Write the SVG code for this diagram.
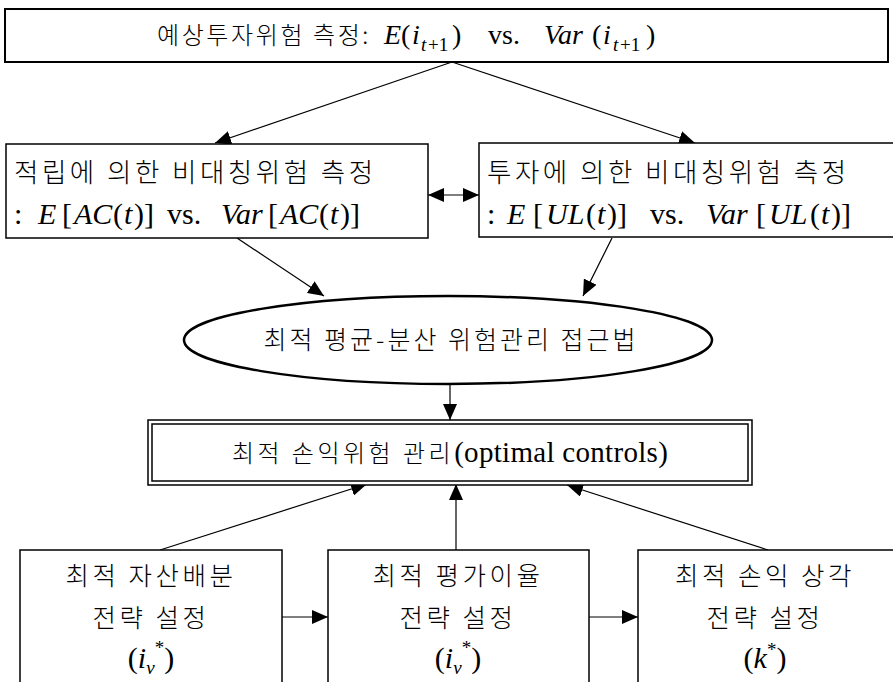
<svg xmlns="http://www.w3.org/2000/svg" width="893" height="682" viewBox="0 0 893 682">
<style>
.box{fill:#fff;stroke:#000;stroke-width:1.5}
.ko{font-family:"Noto Sans CJK KR","Noto Sans",sans-serif;font-size:24px;font-weight:300;letter-spacing:3px;fill:#000}
.k2{font-size:26.5px;letter-spacing:3.5px}
.k3{font-size:25.5px;letter-spacing:3.5px}
.m{font-family:"Liberation Serif",serif;font-size:28px;fill:#000}
.m2{font-size:30px}
.mb{font-size:30px}
.mi{font-style:italic}
.sub{font-size:19px}
.ln{stroke:#000;stroke-width:1.2;fill:none;marker-end:url(#ah)}
</style>
<defs>
<marker id="ah" viewBox="0 0 16 14" refX="16" refY="7" markerWidth="16" markerHeight="14" orient="auto-start-reverse" markerUnits="userSpaceOnUse">
<path d="M0,0 L16,7 L0,14 z" fill="#000"/>
</marker>
</defs>
<rect width="893" height="682" fill="#fff"/>

<g id="connectors">
<line class="ln" x1="452" y1="62" x2="215" y2="143"/>
<line class="ln" x1="452" y1="62" x2="695" y2="143"/>
<line class="ln" x1="428" y1="195" x2="479" y2="195" style="marker-start:url(#ah)"/>
<line class="ln" x1="237" y1="238" x2="324" y2="296"/>
<line class="ln" x1="612" y1="238" x2="583" y2="296"/>
<line class="ln" x1="450" y1="385" x2="450" y2="420"/>
<line class="ln" x1="160" y1="550" x2="367" y2="484"/>
<line class="ln" x1="456" y1="550" x2="456" y2="484"/>
<line class="ln" x1="768" y1="550" x2="567" y2="485"/>
<line class="ln" x1="282" y1="617" x2="328" y2="617"/>
<line class="ln" x1="589" y1="617" x2="638" y2="617"/>
</g>

<g id="top">
<rect class="box" x="5" y="9" width="883" height="53" style="stroke-width:2"/>
<text class="ko" x="157" y="44" style="letter-spacing:2.6px">예상투자위험 측정:</text>
<text class="m" y="44"><tspan class="mi" x="384">E</tspan><tspan x="401">(</tspan><tspan class="mi" x="412">i</tspan><tspan class="sub mi" x="421" dy="7">t</tspan><tspan class="sub" x="428">+1</tspan><tspan x="452" dy="-7">)</tspan><tspan x="488">vs.</tspan><tspan class="mi" x="544">Var</tspan><tspan x="592">(</tspan><tspan class="mi" x="603">i</tspan><tspan class="sub mi" x="613" dy="7">t</tspan><tspan class="sub" x="620">+1</tspan><tspan x="646" dy="-7">)</tspan></text>
</g>

<g id="left-measure">
<rect class="box" x="6" y="144" width="422" height="94"/>
<text class="ko k2" x="14" y="182">적립에 의한 비대칭위험 측정</text>
<text class="m m2" y="224"><tspan x="14">:</tspan><tspan class="mi" x="38">E</tspan><tspan x="62">[</tspan><tspan class="mi" x="74">AC</tspan><tspan x="113">(</tspan><tspan class="mi" x="124">t</tspan><tspan x="134">)]</tspan><tspan x="167">vs.</tspan><tspan class="mi" x="221">Var</tspan><tspan x="268">[</tspan><tspan class="mi" x="280">AC</tspan><tspan x="319">(</tspan><tspan class="mi" x="330">t</tspan><tspan x="340">)]</tspan></text>
</g>

<g id="right-measure">
<rect class="box" x="479" y="143" width="420" height="94"/>
<text class="ko k2" x="487" y="182">투자에 의한 비대칭위험 측정</text>
<text class="m m2" y="224"><tspan x="487">:</tspan><tspan class="mi" x="507">E</tspan><tspan x="533">[</tspan><tspan class="mi" x="546">UL</tspan><tspan x="586">(</tspan><tspan class="mi" x="597">t</tspan><tspan x="607">)]</tspan><tspan x="650">vs.</tspan><tspan class="mi" x="706">Var</tspan><tspan x="756">[</tspan><tspan class="mi" x="769">UL</tspan><tspan x="810">(</tspan><tspan class="mi" x="821">t</tspan><tspan x="831">)]</tspan></text>
</g>

<g id="approach">
<ellipse cx="448" cy="340" rx="264" ry="44" fill="#fff" stroke="#000" stroke-width="2.5"/>
<text class="ko" x="451" y="349" text-anchor="middle" style="font-size:25px">최적 평균-분산 위험관리 접근법</text>
</g>

<g id="optimal-control">
<rect class="box" x="148" y="420" width="604" height="65"/>
<rect class="box" x="152" y="424" width="596" height="57"/>
<text class="ko" x="450" y="462" text-anchor="middle" style="font-size:24px;letter-spacing:3.5px">최적 손익위험 관리<tspan style="font-family:'Liberation Serif',serif;font-size:29px;letter-spacing:0.3px">(optimal controls)</tspan></text>
</g>

<g id="asset-allocation">
<rect class="box" x="20" y="550" width="262" height="140"/>
<text class="ko k3" x="151" y="585" text-anchor="middle">최적 자산배분</text>
<text class="ko k3" x="151" y="627" text-anchor="middle">전략 설정</text>
<text class="m mb" x="151" y="668" text-anchor="middle">(<tspan class="mi">i</tspan><tspan class="sub mi" dy="6">v</tspan><tspan class="sub" dy="-20">*</tspan><tspan dy="14">)</tspan></text>
</g>

<g id="valuation-rate">
<rect class="box" x="328" y="550" width="261" height="140"/>
<text class="ko k3" x="458" y="585" text-anchor="middle">최적 평가이율</text>
<text class="ko k3" x="458" y="627" text-anchor="middle">전략 설정</text>
<text class="m mb" x="458" y="668" text-anchor="middle">(<tspan class="mi">i</tspan><tspan class="sub mi" dy="6">v</tspan><tspan class="sub" dy="-20">*</tspan><tspan dy="14">)</tspan></text>
</g>

<g id="loss-offset">
<rect class="box" x="638" y="550" width="270" height="140"/>
<text class="ko k3" x="765" y="585" text-anchor="middle">최적 손익 상각</text>
<text class="ko k3" x="765" y="627" text-anchor="middle">전략 설정</text>
<text class="m mb" x="765" y="668" text-anchor="middle">(<tspan class="mi">k</tspan><tspan class="sub" dy="-12">*</tspan><tspan dy="12">)</tspan></text>
</g>
</svg>
